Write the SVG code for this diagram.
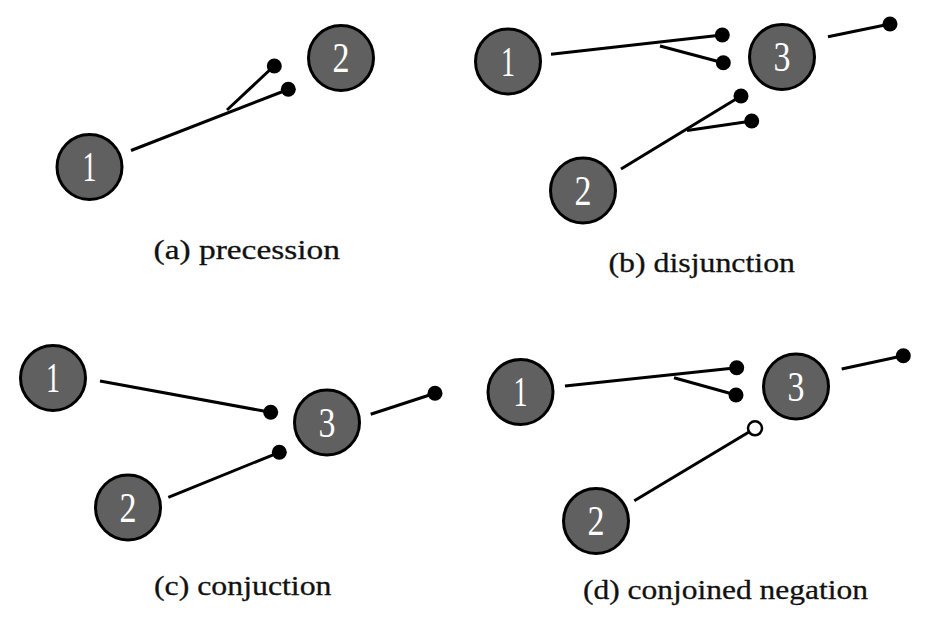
<svg xmlns="http://www.w3.org/2000/svg" width="935" height="620" viewBox="0 0 935 620">
<style>
.node circle{fill:#606060;stroke:#000;stroke-width:3}
.node text{fill:#fff;font-family:"Liberation Serif","DejaVu Serif",serif;font-size:42px;text-anchor:middle}
.conn line{stroke:#000;stroke-width:3;stroke-linecap:butt}
.dot{fill:#000}
.odot{fill:#fff;stroke:#000;stroke-width:2.5}
.cap{fill:#111;stroke:#111;stroke-width:0.3;font-family:"Liberation Serif","DejaVu Serif",serif;font-size:28px}
</style>
<rect width="935" height="620" fill="#fff"/>

<!-- (a) precession -->
<g id="a-n1" class="node"><circle cx="89.5" cy="167" r="32.5"/><text x="89.5" y="181" textLength="14" lengthAdjust="spacingAndGlyphs">1</text></g>
<g id="a-n2" class="node"><circle cx="341" cy="58" r="32.5"/><text x="341" y="72" textLength="17" lengthAdjust="spacingAndGlyphs">2</text></g>

<!-- (b) disjunction -->
<g id="b-n1" class="node"><circle cx="508" cy="61.5" r="32.5"/><text x="508" y="75.5" textLength="14" lengthAdjust="spacingAndGlyphs">1</text></g>
<g id="b-n3" class="node"><circle cx="782" cy="57" r="32.5"/><text x="782" y="71" textLength="17" lengthAdjust="spacingAndGlyphs">3</text></g>
<g id="b-n2" class="node"><circle cx="583" cy="190.5" r="32.5"/><text x="583" y="204.5" textLength="17" lengthAdjust="spacingAndGlyphs">2</text></g>

<!-- (c) conjuction -->
<g id="c-n1" class="node"><circle cx="53" cy="378" r="32.5"/><text x="53" y="392" textLength="14" lengthAdjust="spacingAndGlyphs">1</text></g>
<g id="c-n3" class="node"><circle cx="327" cy="422.5" r="32.5"/><text x="327" y="436.5" textLength="17" lengthAdjust="spacingAndGlyphs">3</text></g>
<g id="c-n2" class="node"><circle cx="128" cy="507.5" r="32.5"/><text x="128" y="521.5" textLength="17" lengthAdjust="spacingAndGlyphs">2</text></g>

<!-- (d) conjoined negation -->
<g id="d-n1" class="node"><circle cx="520.5" cy="392" r="32.5"/><text x="520.5" y="406" textLength="14" lengthAdjust="spacingAndGlyphs">1</text></g>
<g id="d-n3" class="node"><circle cx="796" cy="386.5" r="32.5"/><text x="796" y="400.5" textLength="17" lengthAdjust="spacingAndGlyphs">3</text></g>
<g id="d-n2" class="node"><circle cx="596" cy="521" r="32.5"/><text x="596" y="535" textLength="17" lengthAdjust="spacingAndGlyphs">2</text></g>

<g id="connectors" class="conn">
  <!-- a -->
  <line x1="131" y1="150.5" x2="288" y2="89.5"/>
  <line x1="227" y1="110" x2="274" y2="66"/>
  <circle class="dot" cx="288.3" cy="89.3" r="7.5"/>
  <circle class="dot" cx="274.3" cy="66" r="7.5"/>
  <!-- b -->
  <line x1="551" y1="54.3" x2="722" y2="35"/>
  <line x1="660" y1="46" x2="723" y2="62.7"/>
  <circle class="dot" cx="722.3" cy="35" r="7.5"/>
  <circle class="dot" cx="723.3" cy="62.7" r="7.5"/>
  <line x1="828" y1="36.7" x2="890" y2="24"/>
  <circle class="dot" cx="890" cy="24" r="7.5"/>
  <line x1="621" y1="169" x2="741" y2="96"/>
  <line x1="687" y1="130.5" x2="752" y2="121"/>
  <circle class="dot" cx="741" cy="96" r="7.5"/>
  <circle class="dot" cx="751.7" cy="121" r="7.5"/>
  <!-- c -->
  <line x1="100" y1="381" x2="270.7" y2="412.3"/>
  <circle class="dot" cx="270.7" cy="412.3" r="7.5"/>
  <line x1="168.3" y1="497.3" x2="279.3" y2="452.3"/>
  <circle class="dot" cx="279.3" cy="452.3" r="7.5"/>
  <line x1="370.7" y1="414.3" x2="435" y2="393.3"/>
  <circle class="dot" cx="435" cy="393.3" r="7.5"/>
  <!-- d -->
  <line x1="565" y1="386" x2="736.7" y2="367.7"/>
  <line x1="674" y1="377.8" x2="736" y2="395"/>
  <circle class="dot" cx="736.7" cy="367.7" r="7.5"/>
  <circle class="dot" cx="736" cy="395" r="7.5"/>
  <line x1="841.7" y1="369" x2="903.3" y2="355.7"/>
  <circle class="dot" cx="903.3" cy="355.7" r="7.5"/>
  <line x1="634.3" y1="500.7" x2="749" y2="432"/>
  <circle class="odot" cx="755" cy="428.3" r="7"/>
</g>

<text class="cap" x="153.5" y="258.5" textLength="186.5" lengthAdjust="spacingAndGlyphs">(a) precession</text>
<text class="cap" x="608.5" y="272" textLength="186.5" lengthAdjust="spacingAndGlyphs">(b) disjunction</text>
<text class="cap" x="154" y="595" textLength="177.5" lengthAdjust="spacingAndGlyphs">(c) conjuction</text>
<text class="cap" x="583" y="599" textLength="285" lengthAdjust="spacingAndGlyphs">(d) conjoined negation</text>
</svg>
